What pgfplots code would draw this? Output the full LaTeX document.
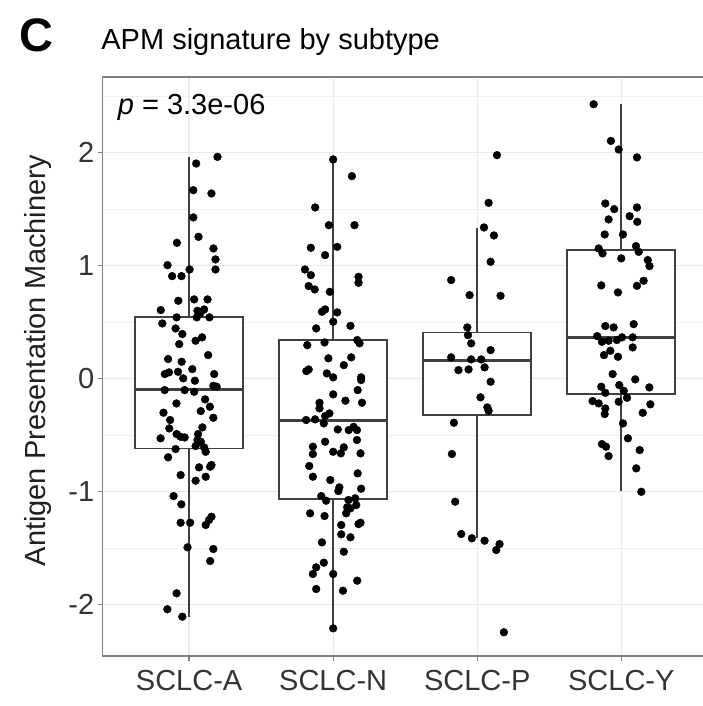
\documentclass[border=0pt]{standalone}
\usepackage{pgfplots}
\pgfplotsset{compat=1.18}
\usepgfplotslibrary{statistics}
\usepackage{fontspec}
\setmainfont{Liberation Sans}
\definecolor{gridc}{HTML}{EBEBEB}
\definecolor{boxc}{HTML}{404040}
\definecolor{framec}{HTML}{7F7F7F}
\definecolor{tickc}{HTML}{333333}

\pgfplotstableread{
x y
0.197 1.963
0.049 1.904
0.029 1.668
0.155 1.639
0.029 1.427
0.065 1.255
-0.085 1.202
0.169 1.152
0.183 1.055
0.183 0.966
-0.150 1.004
0.003 0.966
-0.118 0.907
-0.053 0.907
-0.075 0.689
0.035 0.701
0.128 0.701
-0.197 0.606
0.058 0.600
0.104 0.612
-0.186 0.488
-0.087 0.542
0.053 0.542
0.141 0.542
0.076 0.577
-0.094 0.444
-0.047 0.394
0.090 0.365
-0.069 0.305
0.045 0.335
0.132 0.208
-0.146 0.173
-0.052 0.149
0.022 0.084
-0.169 0.040
-0.140 0.055
-0.077 0.060
-0.041 0.002
0.040 -0.019
0.174 0.040
0.168 -0.064
0.191 -0.072
-0.170 -0.102
-0.031 -0.102
0.035 -0.117
0.111 -0.184
-0.088 -0.220
0.144 -0.249
-0.178 -0.302
0.081 -0.288
-0.132 -0.367
0.168 -0.347
0.092 -0.432
-0.138 -0.441
-0.087 -0.491
-0.059 -0.515
-0.031 -0.521
0.062 -0.491
-0.198 -0.529
0.058 -0.544
0.081 -0.559
0.045 -0.597
0.104 -0.609
0.115 -0.648
-0.094 -0.624
-0.146 -0.697
0.155 -0.765
0.146 -0.780
0.069 -0.786
-0.059 -0.854
0.115 -0.869
0.045 -0.904
-0.108 -1.040
-0.054 -1.113
-0.059 -1.276
0.007 -1.276
0.115 -1.296
0.155 -1.223
0.138 -1.252
-0.011 -1.494
0.168 -1.509
0.146 -1.615
-0.087 -1.901
-0.151 -2.042
-0.047 -2.108
}\ptsA

\pgfplotstableread{
x y
1.000 1.940
1.130 1.792
0.875 1.515
0.970 1.358
1.148 1.358
0.845 1.158
1.028 1.166
0.944 1.093
0.804 0.966
0.845 0.916
1.176 0.901
1.176 0.848
0.830 0.819
0.872 0.789
0.977 0.768
0.944 0.612
0.922 0.591
1.028 0.586
1.000 0.503
0.882 0.444
1.120 0.467
0.820 0.296
0.940 0.320
1.167 0.341
1.183 0.312
0.967 0.179
1.125 0.188
1.074 0.119
0.830 0.081
0.814 0.066
0.956 0.046
1.000 0.011
1.194 0.011
1.194 -0.013
1.170 -0.102
1.000 -0.140
1.085 -0.196
1.200 -0.214
0.905 -0.214
0.905 -0.264
0.974 -0.308
0.944 -0.332
0.812 -0.367
0.875 -0.361
0.935 -0.397
1.032 -0.450
1.108 -0.456
1.142 -0.427
1.165 -0.456
0.944 -0.559
1.165 -0.544
0.859 -0.603
0.859 -0.668
1.000 -0.648
1.053 -0.662
1.074 -0.609
1.190 -0.662
0.834 -0.774
0.859 -0.869
1.170 -0.839
0.980 -0.898
1.043 -0.963
1.036 -0.996
1.194 -0.975
0.917 -1.040
0.951 -1.081
1.106 -1.075
1.153 -1.060
1.097 -1.140
1.120 -1.149
1.160 -1.119
0.840 -1.193
0.940 -1.217
1.090 -1.193
1.176 -1.288
1.190 -1.276
1.056 -1.296
1.056 -1.379
1.120 -1.405
0.922 -1.450
1.074 -1.533
0.935 -1.630
0.882 -1.671
0.859 -1.730
1.000 -1.730
1.167 -1.789
0.882 -1.863
1.068 -1.878
1.000 -2.211
}\ptsN

\pgfplotstableread{
x y
2.137 1.978
2.079 1.556
2.047 1.338
2.116 1.267
2.093 1.034
1.819 0.872
1.947 0.739
2.162 0.733
1.931 0.453
1.936 0.385
1.958 0.312
2.093 0.252
1.819 0.188
1.958 0.170
2.028 0.170
1.870 0.075
1.940 0.081
2.051 0.099
2.093 -0.028
2.023 -0.166
2.070 -0.255
2.079 -0.285
1.838 -0.391
1.824 -0.668
1.847 -1.090
1.889 -1.376
1.963 -1.414
2.051 -1.435
2.155 -1.465
2.132 -1.518
2.185 -2.246
}\ptsP

\pgfplotstableread{
x y
2.808 2.429
2.928 2.104
2.982 2.028
3.109 1.958
2.889 1.550
2.951 1.500
3.109 1.515
3.058 1.438
2.912 1.409
3.111 1.388
2.885 1.276
3.012 1.276
2.843 1.152
2.870 1.108
3.102 1.173
3.121 1.122
3.000 1.064
3.184 1.049
3.196 0.996
2.861 0.825
2.977 0.763
3.109 0.821
3.155 0.866
2.889 0.465
2.947 0.453
3.086 0.482
2.833 0.376
2.866 0.326
2.912 0.335
2.970 0.341
3.005 0.365
3.079 0.365
3.079 0.276
2.880 0.208
2.924 0.246
2.977 0.193
2.940 0.040
3.097 -0.007
2.861 -0.072
2.986 -0.058
3.195 -0.078
2.889 -0.126
3.017 -0.108
3.040 -0.170
2.801 -0.199
2.843 -0.220
2.982 -0.205
2.889 -0.264
2.885 -0.314
3.202 -0.228
3.149 -0.303
3.012 -0.397
3.046 -0.529
2.866 -0.580
2.894 -0.603
2.912 -0.686
3.128 -0.633
3.104 -0.795
3.139 -1.002
}\ptsY

\begin{document}
\begin{tikzpicture}
\begin{axis}[
  name=ax,
  scale only axis,
  width=605pt, height=579pt,
  xmin=-0.6, xmax=3.6,
  ymin=-2.456, ymax=2.67,
  xtick={0,1,2,3},
  xticklabels={SCLC-A,SCLC-N,SCLC-P,SCLC-Y},
  ytick={-2,-1,0,1,2},
  yticklabels={-2,-1,0,1,2},
  minor ytick={-1.5,-0.5,0.5,1.5,2.5},
  grid=both,
  major grid style={gridc, line width=1.3pt},
  minor grid style={gridc!70!white, line width=0.7pt},
  axis line style={framec, line width=1.4pt},
  tick align=outside,
  tick pos=left,
  major tick length=5pt,
  minor tick length=0pt,
  every tick/.style={framec, line width=1.3pt},
  tick label style={font=\fontsize{29}{34}\selectfont, text=tickc},
  xticklabel style={yshift=-6pt},
  ylabel={Antigen Presentation Machinery},
  ylabel style={font=\fontsize{29}{34}\selectfont, text=tickc!60!black, at={(axis description cs:-0.107,0.51)}, anchor=center},
  boxplot/draw direction=y,
  boxplot/every median/.style={line width=3pt},
]
\addplot[boxplot prepared={draw position=0, median=-0.096, upper quartile=0.547, lower quartile=-0.618, upper whisker=1.96, lower whisker=-2.11, box extend=0.75, whisker extend=0}, draw=boxc, fill=white, solid, line width=1.6pt] coordinates {};
\addplot[boxplot prepared={draw position=1, median=-0.367, upper quartile=0.34, lower quartile=-1.066, upper whisker=1.94, lower whisker=-2.21, box extend=0.75, whisker extend=0}, draw=boxc, fill=white, solid, line width=1.6pt] coordinates {};
\addplot[boxplot prepared={draw position=2, median=0.164, upper quartile=0.409, lower quartile=-0.323, upper whisker=1.334, lower whisker=-1.414, box extend=0.75, whisker extend=0}, draw=boxc, fill=white, solid, line width=1.6pt] coordinates {};
\addplot[boxplot prepared={draw position=3, median=0.365, upper quartile=1.137, lower quartile=-0.137, upper whisker=2.43, lower whisker=-0.993, box extend=0.75, whisker extend=0}, draw=boxc, fill=white, solid, line width=1.6pt] coordinates {};
\addplot[only marks, mark=*, mark size=3.9pt, mark options={draw=black, fill=black}] table[x=x, y=y] {\ptsA};
\addplot[only marks, mark=*, mark size=3.9pt, mark options={draw=black, fill=black}] table[x=x, y=y] {\ptsN};
\addplot[only marks, mark=*, mark size=3.9pt, mark options={draw=black, fill=black}] table[x=x, y=y] {\ptsP};
\addplot[only marks, mark=*, mark size=3.9pt, mark options={draw=black, fill=black}] table[x=x, y=y] {\ptsY};
\end{axis}
\node[anchor=base west, inner sep=0pt, font=\fontsize{29}{34}\selectfont] at ([xshift=-1.5pt, yshift=27pt]ax.north west) {APM signature by subtype};
\node[anchor=base west, inner sep=0pt, font=\fontsize{47}{52}\bfseries] at ([xshift=-83pt, yshift=25pt]ax.north west) {C};
\node[anchor=base west, inner sep=0pt, font=\fontsize{29}{34}\selectfont] at ([xshift=15pt, yshift=-38pt]ax.north west) {\textit{p} = 3.3e-06};
\pgfresetboundingbox
\path[use as bounding box] ([xshift=-102.7pt, yshift=-50pt]ax.south west) rectangle ([xshift=599.3pt, yshift=77pt]ax.north west);
\end{tikzpicture}
\end{document}
